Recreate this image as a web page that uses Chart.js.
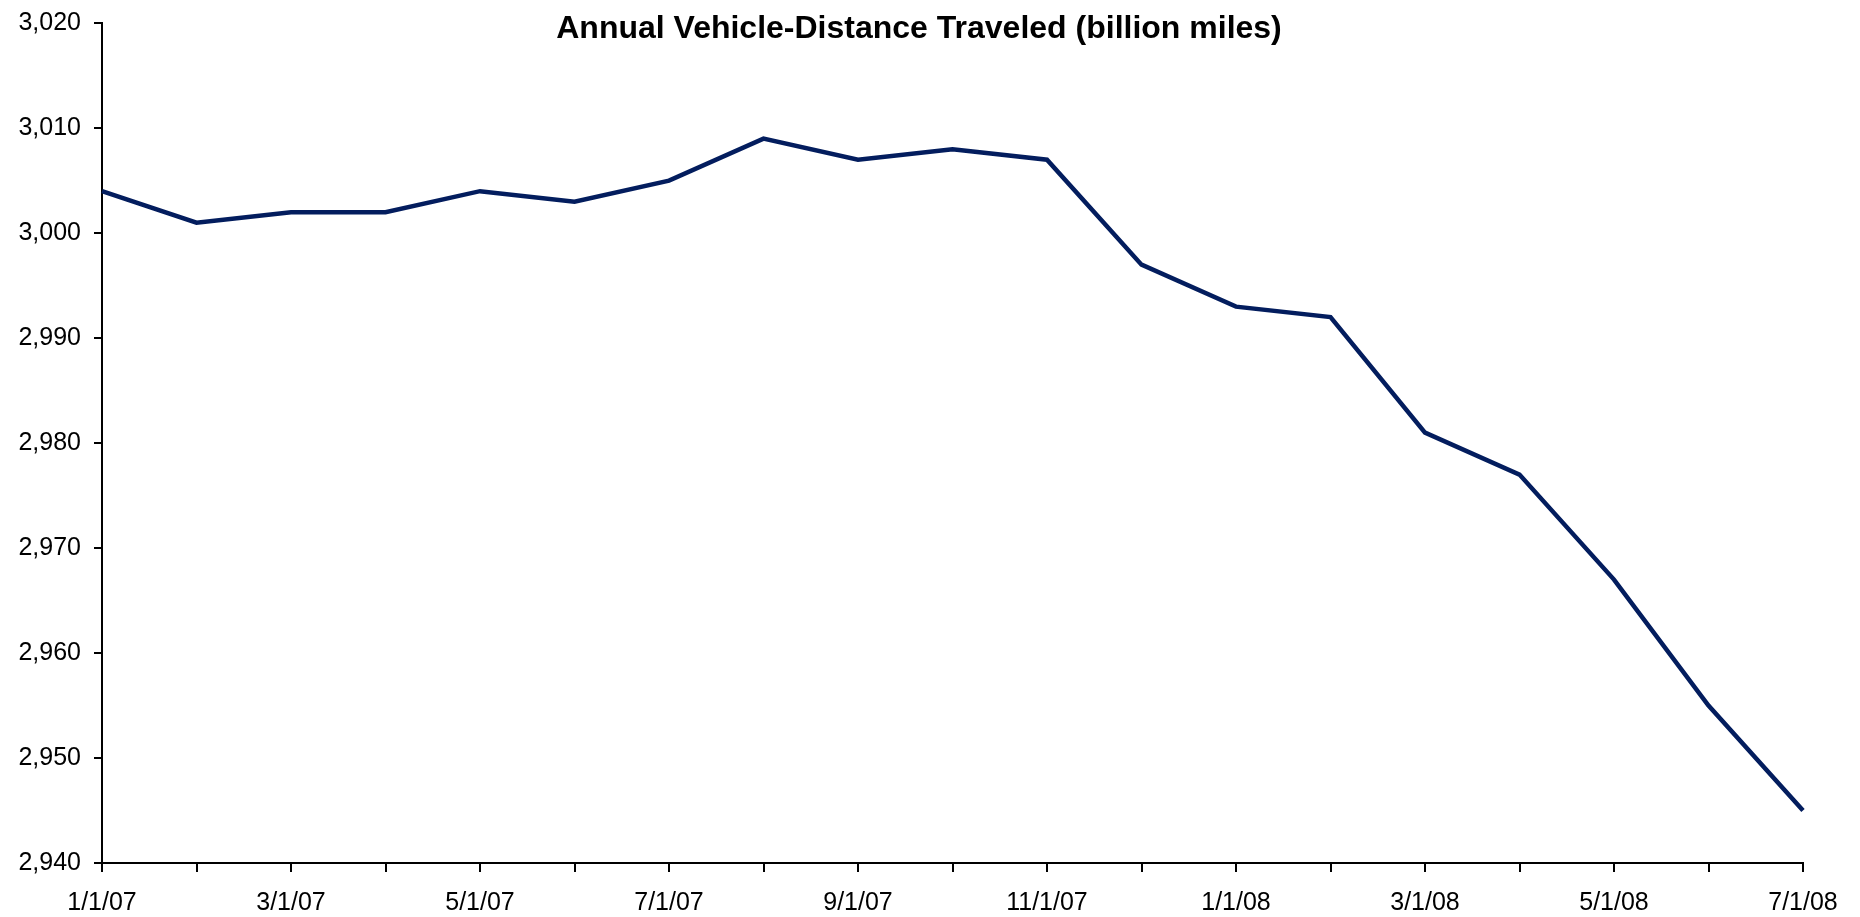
<!DOCTYPE html>
<html>
<head>
<meta charset="utf-8">
<script src="https://cdn.jsdelivr.net/npm/chart.js@4/dist/chart.umd.min.js"></script>
<style>
  html, body { margin: 0; padding: 0; background: #fff; }
  #wrap { width: 1860px; height: 917px; position: relative; }
</style>
</head>
<body>
<div id="wrap"><canvas id="c" width="1860" height="917"></canvas></div>
<script>
const titleText = 'Annual Vehicle-Distance Traveled (billion miles)';
const months = ['1/1/07','2/1/07','3/1/07','4/1/07','5/1/07','6/1/07','7/1/07','8/1/07','9/1/07','10/1/07','11/1/07','12/1/07','1/1/08','2/1/08','3/1/08','4/1/08','5/1/08','6/1/08','7/1/08'];
const vmt = [3004,3001,3002,3002,3004,3003,3005,3009,3007,3008,3007,2997,2993,2992,2981,2977,2967,2955,2945];
const yMin = 2940, yMax = 3020, yStep = 10;

const font = { family: '"Liberation Sans", Arial, sans-serif', size: 25 };

new Chart(document.getElementById('c'), {
  type: 'line',
  data: {
    labels: months,
    datasets: [{
      data: vmt,
      yAxisID: 'y',
      borderColor: '#031d5e',
      borderWidth: 4.5,
      pointRadius: 0,
      tension: 0,
      fill: false
    }]
  },
  options: {
    responsive: false,
    animation: false,
    layout: { padding: { left: 0, right: 22, top: 0, bottom: 0 } },
    plugins: {
      legend: { display: false },
      tooltip: { enabled: false },
      title: {
        display: true,
        text: titleText,
        color: '#000',
        font: { family: '"Liberation Sans", Arial, sans-serif', size: 32, weight: 'bold', lineHeight: 1.2 },
        padding: { top: 9.8, bottom: -25 }
      }
    },
    scales: {
      x: {
        type: 'category',
        offset: false,
        grid: { display: true, drawOnChartArea: false, drawTicks: true, tickLength: 9, color: '#000', lineWidth: 2 },
        border: { display: true, color: '#000', width: 2 },
        ticks: {
          autoSkip: false,
          maxRotation: 0,
          minRotation: 0,
          color: '#000',
          font: font,
          padding: 16,
          callback: function(v, i) { return i % 2 === 0 ? months[i] : ''; }
        },
        afterFit: function(s) { s.height = 54; }
      },
      y: {
        position: 'left',
        min: yMin,
        max: yMax,
        grid: { display: true, drawOnChartArea: false, drawTicks: true, tickLength: 8, color: '#000', lineWidth: 2 },
        border: { display: true, color: '#000', width: 2 },
        ticks: {
          stepSize: yStep,
          color: '#000',
          font: font,
          padding: 13,
          callback: function(v) { return v.toLocaleString('en-US'); }
        },
        afterFit: function(s) { s.width = 102; s.paddingTop = 0; s.paddingBottom = 0; }
      },
      yPad: {
        position: 'right',
        display: true,
        grid: { display: false },
        border: { display: false },
        ticks: { display: false },
        afterFit: function(s) { s.width = 35; s.paddingTop = 0; s.paddingBottom = 0; }
      }
    }
  }
});
</script>
</body>
</html>
